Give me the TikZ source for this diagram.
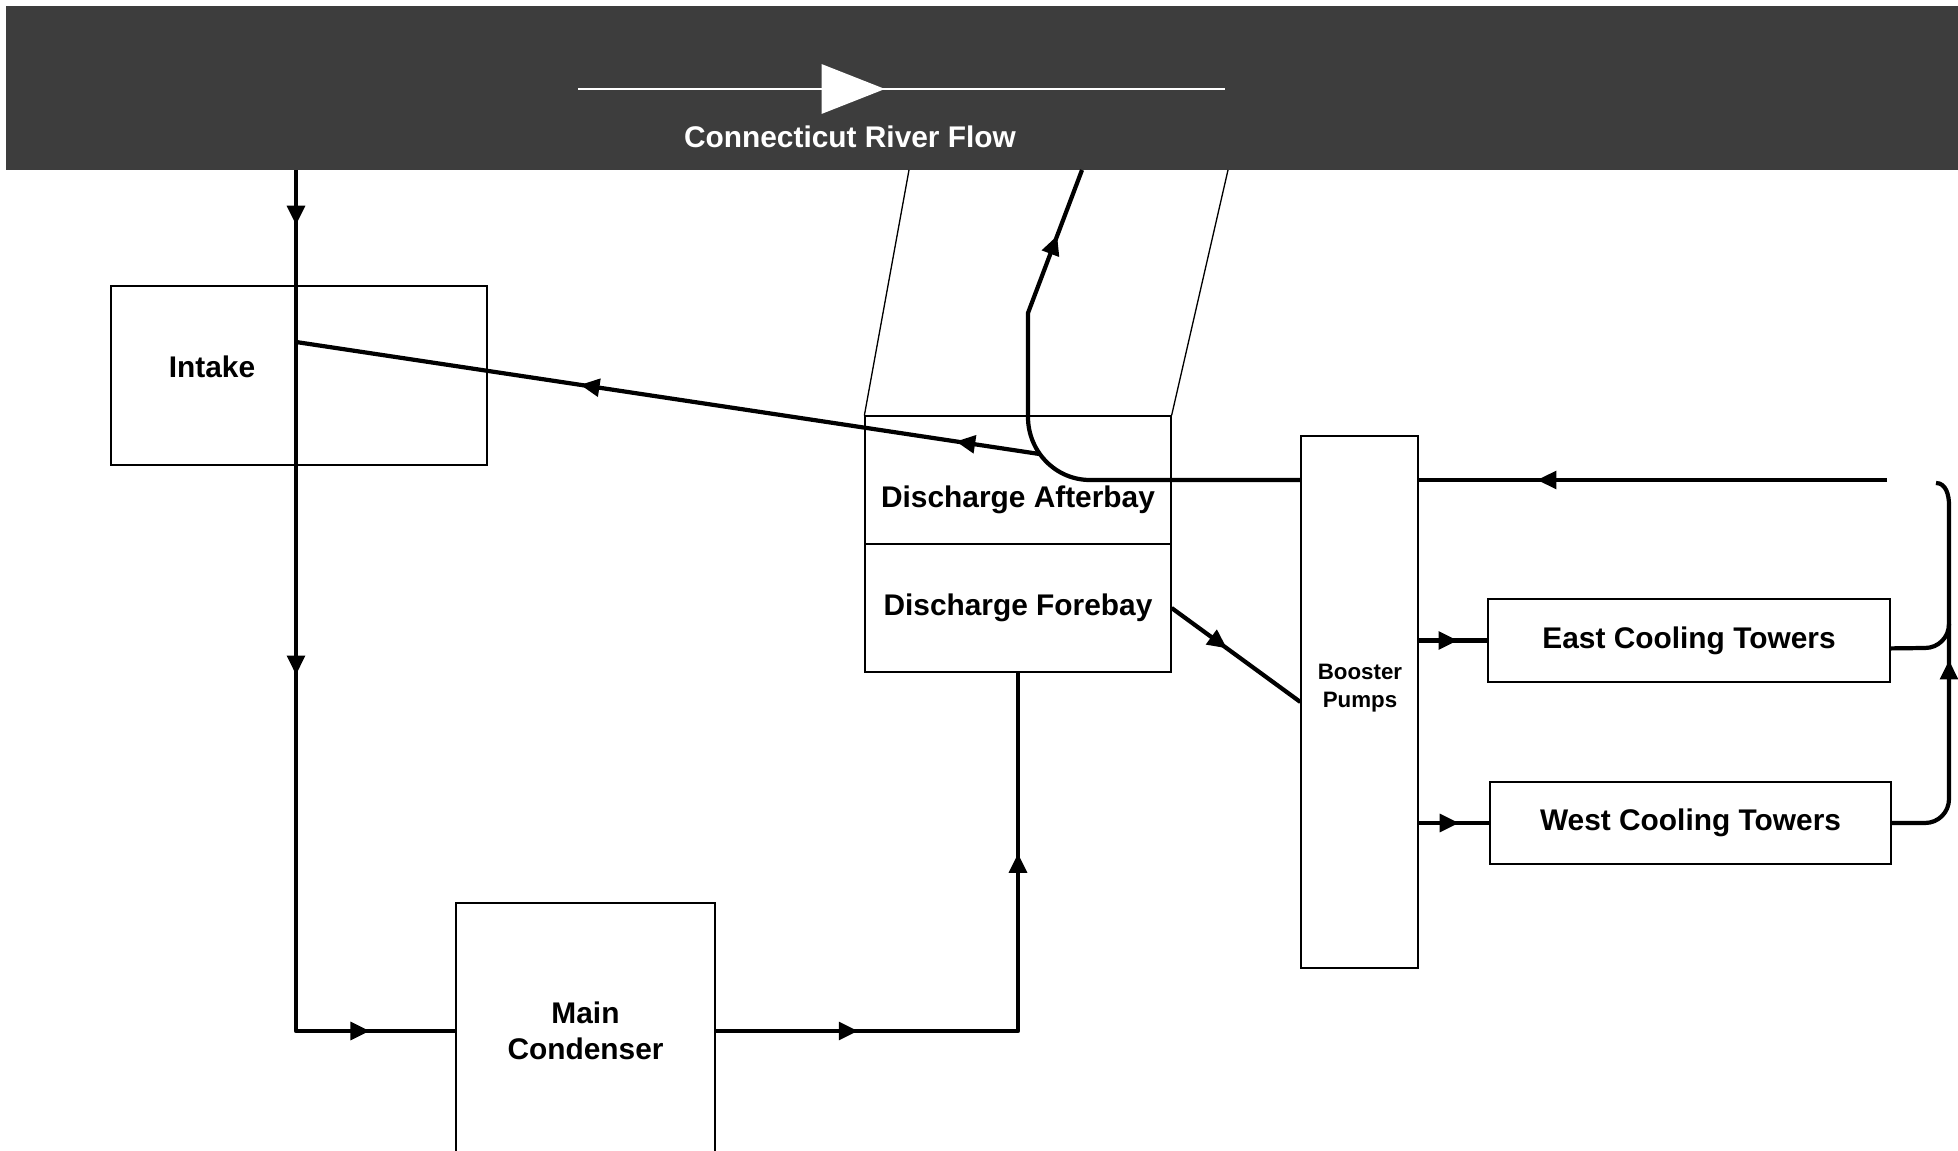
\documentclass[tikz,border=0pt]{standalone}
\usepackage{fontspec}
\setmainfont{Liberation Sans}
\usetikzlibrary{arrows.meta,decorations.markings,calc}
\begin{document}
\begin{tikzpicture}[x=0.02cm,y=-0.02cm,
  box/.style={draw=black,line width=0.75pt,inner sep=0pt},
  lbl/.style={font=\bfseries\fontsize{17pt}{20.4pt}\selectfont,align=center,inner sep=0pt},
  smalllbl/.style={font=\bfseries\fontsize{12.7pt}{15.6pt}\selectfont,align=center,inner sep=0pt},
  flow/.style={line width=2.4pt,line join=round},
  thinline/.style={line width=0.75pt},
  arrowat/.style={postaction={decorate,decoration={markings,mark=at position #1 with {\arrow{Triangle[length=11pt,width=10pt]}}}}},
  bigarrowat/.style={postaction={decorate,decoration={markings,mark=at position #1 with {\arrow{Triangle[length=36pt,width=28pt]}}}}},
]
\useasboundingbox (0,0) rectangle (1958,1151);
\clip (0,0) rectangle (1958,1151);
\fill[white] (0,0) rectangle (1958,1151);

% river
\node[fill=black!76,inner sep=0pt,minimum width=39.04cm,minimum height=3.28cm] (river) at (982,88) {};
\coordinate (rfl) at (578,89);
\coordinate (rfr) at (1225,89);
\draw[white,line width=1.3pt,bigarrowat=6.14cm] (rfl) -- (rfr);
\node[lbl,text=white] (rivertext) at (850,137) {Connecticut River Flow};

% boxes
\node[box,minimum width=7.52cm,minimum height=3.58cm] (intake) at (299,375.5) {};
\node[lbl] (intakelbl) at (212,367) {Intake};
\node[box,minimum width=6.12cm,minimum height=2.56cm] (afterbay) at (1018,480) {};
\node[lbl] (afterbaylbl) at (1018,500) {Discharge Afterbay};
\node[box,lbl,minimum width=6.12cm,minimum height=2.56cm] (forebay) at (1018,608) {Discharge Forebay};
\node[box,lbl,minimum width=5.18cm,minimum height=5.12cm] (condenser) at (585.5,1031) {Main\\Condenser};
\node[box,minimum width=2.34cm,minimum height=10.64cm] (booster) at (1359.5,702) {};
\node[smalllbl] (boosterlbl) at (1360,688) {Booster\\Pumps};
\node[box,lbl,minimum width=8.04cm,minimum height=1.66cm] (east) at (1689,640.5) {East Cooling Towers};
\node[box,lbl,minimum width=8.02cm,minimum height=1.64cm] (west) at (1690.5,823) {West Cooling Towers};

% channel walls
\coordinate (chl) at (909,170);
\coordinate (chr) at (1228,170);
\draw[thinline] (afterbay.north west) -- (chl);
\draw[thinline] (afterbay.north east) -- (chr);

% intake line
\coordinate (rin) at (296,170);
\coordinate (ij) at (296,342);
\draw[flow,arrowat=1.1cm,arrowat=10.1cm,arrowat=18.7cm] (rin) |- (condenser.west);

% condenser to forebay
\draw[flow,arrowat=2.85cm,arrowat=9.6cm] (condenser.east) -| (forebay.south);

% discharge return line
\coordinate (dout) at (1082,170);
\coordinate (retin) at (1887,480);
\draw[flow,arrowat=7cm] (retin) -- (booster.east |- retin);
\draw[flow,arrowat=-1.4cm] (booster.west |- retin) -- (1090,480)
  to[out=180,in=-90] node[coordinate,pos=0.6] (jn) {} (1028,417) -- (1028,313) -- (dout);

% recirculation to intake
\draw[flow,arrowat=1.7cm,arrowat=9.3cm] (jn) -- (ij);

% forebay to booster
\draw[flow,arrowat=0.43] (forebay.east) -- (booster.west);

% booster to towers
\draw[flow,arrowat=0.57] (booster.east |- east.west) -- (east.west);
\draw[flow,arrowat=0.57] (booster.east |- west.west) -- (west.west);

% tower outlets
\coordinate (brtop) at (1936,483);
\draw[flow] ([yshift=-4.5pt]east.east) -- (1925,648) to[out=0,in=-90] (1949,624);
\draw[flow,arrowat=4.2cm] (west.east) -- (1925,823) to[out=0,in=-90] (1949,799) -- (1949,505) to[out=90,in=0] (brtop);
\end{tikzpicture}
\end{document}
